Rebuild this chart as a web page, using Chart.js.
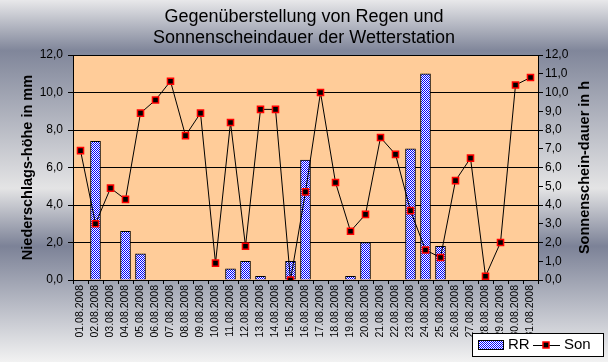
<!DOCTYPE html>
<html>
<head>
<meta charset="utf-8">
<script src="https://cdn.jsdelivr.net/npm/chart.js@4.4.0/dist/chart.umd.min.js"></script>
<style>
  html, body { margin: 0; padding: 0; background: #fff; }
  canvas { display: block; }
</style>
</head>
<body>
<canvas id="chart" width="608" height="362"></canvas>
<script>
// Tageswerte August 2008
const dates = [
  '01.08.2008', '02.08.2008', '03.08.2008', '04.08.2008', '05.08.2008', '06.08.2008',
  '07.08.2008', '08.08.2008', '09.08.2008', '10.08.2008', '11.08.2008', '12.08.2008',
  '13.08.2008', '14.08.2008', '15.08.2008', '16.08.2008', '17.08.2008', '18.08.2008',
  '19.08.2008', '20.08.2008', '21.08.2008', '22.08.2008', '23.08.2008', '24.08.2008',
  '25.08.2008', '26.08.2008', '27.08.2008', '28.08.2008', '29.08.2008', '30.08.2008',
  '31.08.2008'
];
// RR: Niederschlag in mm
const rainMm = [0, 7.4, 0, 2.6, 1.4, 0, 0, 0, 0, 0, 0.6, 1.0, 0.2, 0, 1.0, 6.4,
  0, 0, 0.2, 2.0, 0, 0, 7.0, 11.0, 1.8, 0, 0, 0, 0, 0, 0];
// Son: Sonnenscheindauer in h
const sunHours = [6.9, 3.0, 4.9, 4.3, 8.9, 9.6, 10.6, 7.7, 8.9, 0.9, 8.4, 1.8, 9.1, 9.1, 0.0, 4.7,
  10.0, 5.2, 2.6, 3.5, 7.6, 6.7, 3.7, 1.6, 1.2, 5.3, 6.5, 0.2, 2.0, 10.4, 10.8];

const rightTitle = 'Sonnenschein-dauer in h';
const font = 'Liberation Sans, Arial, sans-serif';

// blau/weiss kariertes Muster wie in Excel
function checker() {
  const c = document.createElement('canvas');
  c.width = 2; c.height = 2;
  const g = c.getContext('2d');
  g.fillStyle = '#ffffff';
  g.fillRect(0, 0, 2, 2);
  g.fillStyle = '#0000ff';
  g.fillRect(0, 0, 1, 1);
  g.fillRect(1, 1, 1, 1);
  return g.createPattern(c, 'repeat');
}
const rrFill = checker();

const fmt = v => v.toFixed(1).replace('.', ',');

const background = {
  id: 'background',
  beforeDraw(chart) {
    const { ctx, width, height, chartArea: a } = chart;
    const grad = ctx.createLinearGradient(0, 0, 0, height);
    grad.addColorStop(0, '#e8e8ea');
    grad.addColorStop(0.14, '#80869a');
    grad.addColorStop(0.52, '#e4e4e5');
    grad.addColorStop(0.68, '#7c8297');
    grad.addColorStop(1, '#f2f2f2');
    ctx.save();
    ctx.fillStyle = grad;
    ctx.fillRect(0, 0, width, height);
    ctx.fillStyle = '#ffcc99';
    ctx.fillRect(a.left, a.top, a.right - a.left, a.bottom - a.top);
    ctx.restore();
  }
};

// rechter Achsentitel, von unten nach oben gelesen wie links
const rightAxisTitle = {
  id: 'rightAxisTitle',
  afterDraw(chart) {
    const { ctx, chartArea: a } = chart;
    ctx.save();
    ctx.translate(585, (a.top + a.bottom) / 2);
    ctx.rotate(-Math.PI / 2);
    ctx.font = 'bold 14.5px ' + font;
    ctx.fillStyle = '#000';
    ctx.textAlign = 'center';
    ctx.textBaseline = 'middle';
    ctx.fillText(rightTitle, 0, 0);
    ctx.restore();
  }
};

const legendBox = {
  id: 'legendBox',
  afterDraw(chart) {
    const ctx = chart.ctx;
    const x = 472, y = 333, w = 131, h = 23;
    const ds = chart.data.datasets;
    ctx.save();
    ctx.fillStyle = '#ffffff';
    ctx.fillRect(x, y, w, h);
    ctx.strokeStyle = '#000';
    ctx.lineWidth = 1;
    ctx.strokeRect(x + 0.5, y + 0.5, w, h);
    // RR
    ctx.fillStyle = rrFill;
    ctx.fillRect(478, 340, 25, 9);
    ctx.strokeRect(478.5, 340.5, 25, 9);
    ctx.fillStyle = '#000';
    ctx.font = '15px ' + font;
    ctx.textBaseline = 'middle';
    ctx.fillText(ds[0].label, 508, 345);
    // Son
    ctx.beginPath();
    ctx.moveTo(533, 345.5);
    ctx.lineTo(560, 345.5);
    ctx.stroke();
    ctx.fillStyle = '#000';
    ctx.fillRect(543, 342, 6, 6);
    ctx.strokeStyle = '#ff0000';
    ctx.lineWidth = 1.5;
    ctx.strokeRect(543, 342, 6, 6);
    ctx.fillStyle = '#000';
    ctx.fillText(ds[1].label, 564, 345);
    ctx.restore();
  }
};

new Chart(document.getElementById('chart'), {
  data: {
    labels: dates,
    datasets: [
      {
        type: 'bar',
        label: 'RR',
        data: rainMm,
        yAxisID: 'y',
        backgroundColor: rrFill,
        borderColor: '#000',
        borderWidth: 1,
        barThickness: 10,
        order: 1
      },
      {
        type: 'line',
        label: 'Son',
        data: sunHours,
        yAxisID: 'y1',
        borderColor: '#000',
        borderWidth: 1,
        tension: 0,
        pointStyle: 'rect',
        pointRadius: 4.3,
        pointBackgroundColor: '#000',
        pointBorderColor: '#ff0000',
        pointBorderWidth: 1.5,
        order: 0
      }
    ]
  },
  options: {
    responsive: false,
    animation: false,
    layout: { padding: 0 },
    plugins: {
      legend: { display: false },
      tooltip: { enabled: false },
      title: {
        display: true,
        text: ['Gegenüberstellung von Regen und', 'Sonnenscheindauer der Wetterstation'],
        color: '#000',
        font: { family: font, size: 18, weight: 'normal', lineHeight: 1.15 },
        padding: { top: 6.5, bottom: 7.1 }
      }
    },
    scales: {
      x: {
        offset: true,
        grid: { offset: true, drawOnChartArea: false, color: '#000', tickLength: 4 },
        border: { color: '#000', width: 1 },
        ticks: {
          autoSkip: false, minRotation: 90, maxRotation: 90, padding: 1,
          color: '#000', font: { family: font, size: 10.5 }
        },
        afterFit(s) { s.height = 82; }
      },
      y: {
        position: 'left',
        min: 0, max: 12,
        ticks: { stepSize: 2, callback: fmt, color: '#000', padding: 5, font: { family: font, size: 12 } },
        grid: { color: '#000', tickLength: 5 },
        border: { color: '#000', width: 1 },
        title: {
          display: true, text: 'Niederschlags-höhe in mm', color: '#000',
          font: { family: font, size: 14.5, weight: 'bold' }, padding: { top: 19, bottom: 0 }
        },
        afterFit(s) { s.width = 73; }
      },
      y1: {
        position: 'right',
        min: 0, max: 12,
        ticks: { stepSize: 1, callback: fmt, color: '#000', padding: 2, font: { family: font, size: 12 } },
        grid: { drawOnChartArea: false, color: '#000', tickLength: 5 },
        border: { color: '#000', width: 1 },
        afterFit(s) { s.width = 70; }
      }
    }
  },
  plugins: [background, rightAxisTitle, legendBox]
});
</script>
</body>
</html>
